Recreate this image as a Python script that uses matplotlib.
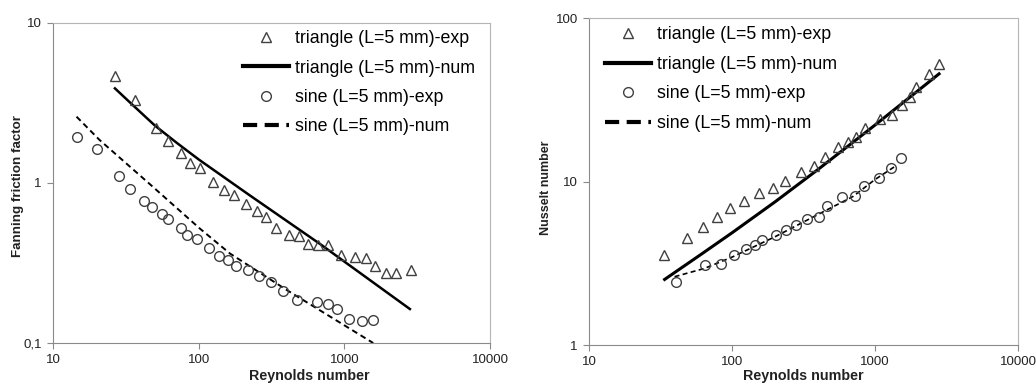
import numpy as np
import matplotlib.pyplot as plt
from matplotlib.ticker import FixedLocator, FuncFormatter, NullLocator

plt.rcParams['font.family'] = ['Liberation Sans', 'DejaVu Sans']

# friction factor panel
re_tri_f = [26.5, 36.4, 50.7, 61.6, 76.1, 86.8, 101.8, 125.7, 149.6, 175, 212.8, 249.4, 289,
            342, 418, 490, 565, 661, 767, 942, 1181, 1399, 1622, 1929, 2260, 2850]
f_tri = [4.64, 3.29, 2.21, 1.83, 1.54, 1.34, 1.24, 1.01, 0.90, 0.837, 0.743, 0.666, 0.613,
         0.523, 0.471, 0.464, 0.414, 0.412, 0.408, 0.353, 0.345, 0.341, 0.303, 0.274, 0.274, 0.287]
re_tri_f_num = [26.6, 35, 50, 70, 100, 224, 679, 2818]
f_tri_num = [3.89, 3.08, 2.28, 1.79, 1.40, 0.836, 0.416, 0.163]

re_sin_f = [14.5, 20.0, 28.2, 34.0, 42.0, 47.9, 56.1, 61.7, 75.0, 83.4, 96.6, 117, 137, 159,
            180, 219, 260, 316, 380, 470, 651, 767, 894, 1075, 1313, 1563]
f_sin = [1.94, 1.62, 1.11, 0.912, 0.772, 0.708, 0.643, 0.598, 0.523, 0.475, 0.444, 0.394, 0.350,
         0.329, 0.303, 0.287, 0.261, 0.241, 0.211, 0.185, 0.180, 0.174, 0.164, 0.142, 0.137, 0.139]
re_sin_f_num = [14.5, 20.9, 46, 101.7, 164, 400, 1578]
f_sin_num = [2.59, 1.85, 0.985, 0.519, 0.362, 0.215, 0.1]

# Nusselt panel
re_tri_nu = [33.4, 48.8, 62.7, 78.5, 96.3, 121, 154, 194, 234, 305, 374, 444, 551, 647, 740,
             855, 1078, 1322, 1553, 1747, 1944, 2387, 2806]
nu_tri = [3.56, 4.50, 5.25, 6.05, 6.87, 7.65, 8.49, 9.19, 10.1, 11.4, 12.5, 14.1, 16.2, 17.6,
          18.7, 21.2, 24.1, 25.6, 29.5, 33.1, 37.8, 45.6, 52.5]
re_tri_nu_num = [33.8, 60, 100, 200, 400, 1000, 2806]
nu_tri_num = [2.52, 3.56, 4.86, 7.52, 11.88, 22.2, 45.7]

re_sin_nu = [40.8, 65, 84, 104, 125, 144, 163, 202, 240, 282, 336, 404, 464, 588, 721, 838,
             1067, 1288, 1529]
nu_sin = [2.44, 3.09, 3.12, 3.56, 3.85, 4.10, 4.40, 4.71, 5.06, 5.43, 5.88, 6.11, 7.13, 8.09,
          8.17, 9.46, 10.6, 12.1, 13.9]
re_sin_nu_num = [39.7, 64, 100, 200, 400, 700, 1000, 1400]
nu_sin_num = [2.62, 2.94, 3.45, 4.6, 6.3, 8.1, 10.3, 12.5]

labels = ["triangle (L=5 mm)-exp", "triangle (L=5 mm)-num",
          "sine (L=5 mm)-exp", "sine (L=5 mm)-num"]

axis_col = "#8a8a8a"
mk_col = "#404040"


def fmt(v, pos):
    return f"{v:g}".replace(".", ",")


def style(ax, ylim, yticks, ylabel, ylab_size, xlab_xy, ylab_xy):
    ax.set_xscale("log")
    ax.set_yscale("log")
    ax.set_xlim(10, 10000)
    ax.set_ylim(*ylim)
    ax.xaxis.set_major_locator(FixedLocator([10, 100, 1000, 10000]))
    ax.yaxis.set_major_locator(FixedLocator(yticks))
    ax.xaxis.set_minor_locator(NullLocator())
    ax.yaxis.set_minor_locator(NullLocator())
    ax.xaxis.set_major_formatter(FuncFormatter(fmt))
    ax.yaxis.set_major_formatter(FuncFormatter(fmt))
    ax.tick_params(direction="out", length=4, width=0.8, color=axis_col,
                   labelsize=9.5, labelcolor="#222222", pad=4)
    for s in ["left", "bottom"]:
        ax.spines[s].set_color(axis_col)
    for s in ["top", "right"]:
        ax.spines[s].set_color("#b5b5b5")
    ax.set_xlabel("Reynolds number", fontsize=10.3, fontweight="bold", color="#222222")
    ax.set_ylabel(ylabel, fontsize=ylab_size, fontweight="bold", color="#222222")
    ax.xaxis.set_label_coords(*xlab_xy)
    ax.yaxis.set_label_coords(*ylab_xy)


def legend(ax, anchor):
    h = [
        plt.Line2D([], [], ls="none", marker="^", ms=7.5, mfc="white", mec=mk_col, mew=1),
        plt.Line2D([], [], color="black", lw=3),
        plt.Line2D([], [], ls="none", marker="o", ms=7, mfc="white", mec=mk_col, mew=1),
        plt.Line2D([], [], color="black", lw=3, ls=(0, (3.4, 1.8))),
    ]
    ax.legend(h, labels, loc="upper left", bbox_to_anchor=anchor, frameon=False,
              fontsize=12.8, handlelength=2.6, handletextpad=0.34, labelspacing=0.7,
              borderaxespad=0, borderpad=0)


fig = plt.figure(figsize=(10.36, 3.83), dpi=100)
ax1 = fig.add_axes([0.0512, 0.1044, 0.4218, 0.8363])
ax2 = fig.add_axes([0.5685, 0.0992, 0.4141, 0.8530])

ax1.plot(re_tri_f_num, f_tri_num, color="black", lw=1.8)
ax1.plot(re_sin_f_num, f_sin_num, color="black", lw=1.4, ls=(0, (3, 2)))
ax1.plot(re_tri_f, f_tri, ls="none", marker="^", ms=7.5, mfc="none", mec=mk_col, mew=1)
ax1.plot(re_sin_f, f_sin, ls="none", marker="o", ms=7, mfc="none", mec=mk_col, mew=1)
style(ax1, (0.1, 10), [0.1, 1, 10], "Fanning friction factor", 9.6,
      (0.586, -0.081), (-0.067, 0.49))
legend(ax1, (0.434, 0.977))

ax2.plot(re_tri_nu_num, nu_tri_num, color="black", lw=2.2)
ax2.plot(re_sin_nu_num, nu_sin_num, color="black", lw=1.2, ls=(0, (3, 2)))
ax2.plot(re_tri_nu, nu_tri, ls="none", marker="^", ms=7.5, mfc="none", mec=mk_col, mew=1)
ax2.plot(re_sin_nu, nu_sin, ls="none", marker="o", ms=7, mfc="none", mec=mk_col, mew=1)
style(ax2, (1, 100), [1, 10, 100], "Nusselt number", 9,
      (0.5, -0.073), (-0.086, 0.48))
legend(ax2, (0.0366, 0.975))

fig.savefig("out.png", dpi=100)
